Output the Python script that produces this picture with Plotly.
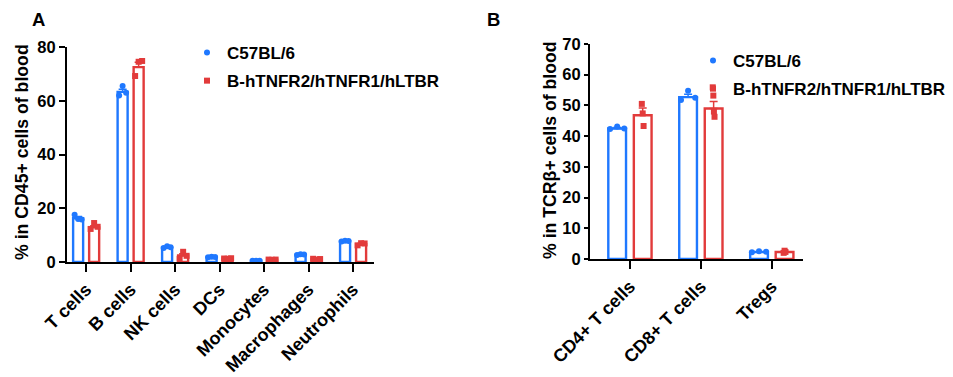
import plotly.graph_objects as go

# ---------------- data ----------------
A_categories = ["T cells", "B cells", "NK cells", "DCs", "Monocytes", "Macrophages", "Neutrophils"]
A_c57_mean = [16.3, 63.3, 5.4, 1.9, 0.5, 2.7, 7.7]
A_c57_sem = [0.6, 1.0, 0.2, 0.1, 0.05, 0.1, 0.1]
A_c57_points = [[17.6, 16.0, 15.8], [62.0, 65.5, 63.0], [5.2, 5.9, 5.5], [1.8, 2.0, 1.9],
                [0.5, 0.5, 0.5], [2.6, 2.9, 2.8], [7.6, 7.9, 7.8]]
A_hum_mean = [12.9, 72.5, 2.4, 1.3, 0.9, 1.1, 6.6]
A_hum_sem = [0.6, 1.8, 0.7, 0.1, 0.05, 0.1, 0.3]
A_hum_points = [[12.3, 14.5, 13.1], [69.2, 74.5, 74.8], [1.2, 3.8, 2.3], [1.3, 1.2, 1.4],
                [0.9, 0.8, 0.9], [1.2, 0.9, 1.1], [6.2, 7.0, 6.9]]

B_categories = ["CD4+ T cells", "CD8+ T cells", "Tregs"]
B_c57_mean = [42.5, 52.7, 2.3]
B_c57_sem = [0.3, 0.9, 0.1]
B_c57_points = [[42.3, 43.1, 42.5], [51.8, 54.8, 52.5], [2.2, 2.5, 2.4]]
B_hum_mean = [46.8, 49.0, 2.3]
B_hum_sem = [2.4, 2.3, 0.2]
B_hum_points = [[50.5, 47.4, 43.3], [55.9, 53.2, 48.0, 46.3], [2.0, 2.7, 2.3]]

groups = ["C57BL/6", "B-hTNFR2/hTNFR1/hLTBR"]
panel_labels = ["A", "B"]
A_ytitle = "% in CD45+ cells of blood"
B_ytitle = "% in TCRβ+ cells of blood"

# ---------------- style ----------------
BLUE = "#1F78FF"
RED = "#E23B3B"
FONT = "Liberation Sans, Arial, sans-serif"

fig = go.Figure()


def add_panel(cats, means, sems, pts, xa, ya, legend_name, width, offset, spread):
    colors = [BLUE, RED]
    symbols = ["circle", "square"]
    n = len(cats)
    for g in range(2):
        pos = [i + (offset if g else -offset) for i in range(n)]
        fig.add_trace(go.Bar(
            x=pos, y=means[g], width=width,
            marker=dict(color="rgba(0,0,0,0)", line=dict(color=colors[g], width=2.4)),
            error_y=dict(type="data", array=sems[g], arrayminus=[0] * n, symmetric=False,
                         color=colors[g], thickness=1.5, width=4),
            xaxis=xa, yaxis=ya, showlegend=False, hoverinfo="skip"))
    for g in range(2):
        xs, ys = [], []
        for i in range(n):
            p = pts[g][i]
            k = len(p)
            for j, v in enumerate(p):
                frac = 0 if k == 1 else (j / (k - 1) - 0.5)
                xs.append(i + (offset if g else -offset) + frac * spread[g] * width)
                ys.append(v)
        fig.add_trace(go.Scatter(
            x=xs, y=ys, mode="markers", name=groups[g],
            marker=dict(color=colors[g], symbol=symbols[g], size=6),
            xaxis=xa, yaxis=ya, legend=legend_name, legendgroup=legend_name + str(g),
            showlegend=True, hoverinfo="skip"))


add_panel(A_categories, [A_c57_mean, A_hum_mean], [A_c57_sem, A_hum_sem],
          [A_c57_points, A_hum_points], "x", "y", "legend", 0.225, 0.18, [0.7, 0.7])
add_panel(B_categories, [B_c57_mean, B_hum_mean], [B_c57_sem, B_hum_sem],
          [B_c57_points, B_hum_points], "x2", "y2", "legend2", 0.25, 0.18, [0.8, 0.1])

W, H = 953, 377


def px_x(v):
    return v / W


def px_y(v):
    return 1 - v / H


xtickfont = dict(family=FONT, size=18, color="black", weight="bold")
ytickfont = dict(family=FONT, size=16.5, color="black", weight="bold")
axis_common = dict(showline=True, linecolor="black", linewidth=2, ticks="outside",
                   tickwidth=2, tickcolor="black", showgrid=False, zeroline=False,
                   automargin=False)
title_font = dict(family=FONT, size=17.7, color="black", weight="bold")
label_font = dict(family=FONT, size=18.5, color="black", weight="bold")
legend_font = dict(family=FONT, size=17, color="black", weight="bold")

fig.update_layout(
    width=W, height=H,
    margin=dict(l=0, r=0, t=0, b=0, autoexpand=False),
    paper_bgcolor="white", plot_bgcolor="white",
    font=dict(family=FONT, color="black", weight="bold"),
    xaxis=dict(domain=[px_x(67), px_x(374)], range=[-0.43, 6.47], anchor="y",
               tickvals=list(range(len(A_categories))), ticktext=A_categories,
               tickangle=-45, ticklen=8, tickfont=xtickfont, **axis_common),
    yaxis=dict(domain=[px_y(262), px_y(47)], range=[0, 80], dtick=20, anchor="x",
               ticklen=6, tickfont=ytickfont, **axis_common),
    xaxis2=dict(domain=[px_x(590), px_x(803)], range=[-0.563, 2.44], anchor="y2",
                tickvals=list(range(len(B_categories))), ticktext=B_categories,
                tickangle=-45, ticklen=8, tickfont=xtickfont, **axis_common),
    yaxis2=dict(domain=[px_y(259), px_y(44)], range=[0, 70], dtick=10, anchor="x2",
                ticklen=4, tickfont=ytickfont, **axis_common),
    legend=dict(x=px_x(187), y=px_y(35), xanchor="left", yanchor="top",
                bgcolor="rgba(0,0,0,0)", tracegroupgap=3, font=legend_font),
    legend2=dict(x=px_x(693), y=px_y(43), xanchor="left", yanchor="top",
                 bgcolor="rgba(0,0,0,0)", tracegroupgap=3, font=legend_font),
    annotations=[
        dict(text=panel_labels[0], x=px_x(38), y=px_y(19), xref="paper", yref="paper",
             xanchor="center", yanchor="middle", showarrow=False, font=label_font),
        dict(text=panel_labels[1], x=px_x(494), y=px_y(19), xref="paper", yref="paper",
             xanchor="center", yanchor="middle", showarrow=False, font=label_font),
        dict(text=A_ytitle, x=px_x(22), y=px_y(152), xref="paper", yref="paper",
             xanchor="center", yanchor="middle", textangle=-90, showarrow=False,
             font=title_font),
        dict(text=B_ytitle, x=px_x(550), y=px_y(150), xref="paper", yref="paper",
             xanchor="center", yanchor="middle", textangle=-90, showarrow=False,
             font=title_font),
    ],
)

fig.write_html("out.html", config={"displayModeBar": False},
               post_script="document.body.style.margin='0';")
